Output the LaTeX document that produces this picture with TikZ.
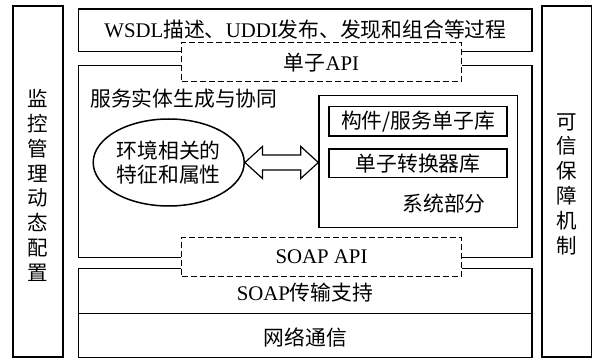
\documentclass[tikz,border=0pt]{standalone}
\usepackage{fontspec}
\setmainfont{Liberation Serif}
\newfontfamily\cjk{Noto Sans CJK SC}
\usetikzlibrary{shapes.geometric,calc}

\tikzset{
  frame/.style={line width=1.5pt},
  box/.style={draw, line width=1.5pt, inner sep=0pt},
  apibox/.style={draw, line width=1.4pt, dash pattern=on 6pt off 3pt,
    minimum width=279.6pt, minimum height=39pt, inner sep=0pt},
  txt/.style={inner sep=0pt, font=\fontsize{20.8}{24}\selectfont},
  vtxt/.style={inner sep=0pt, align=center,
    font=\fontsize{20.5}{24.8}\selectfont\cjk},
}

\begin{document}
\begin{tikzpicture}[x=1pt, y=-1pt]
\useasboundingbox (0,0) rectangle (599,358);

% side columns
\node[box, minimum width=50pt, minimum height=351pt] (mon) at (38,181.5) {};
\node[vtxt] (montxt) at (38,185.5) {监\\控\\管\\理\\动\\态\\配\\置};
\node[box, minimum width=49.5pt, minimum height=351pt] (trust) at (566.5,181.5) {};
\node[vtxt] (trusttxt) at (566.5,184) {可\\信\\保\\障\\机\\制};

% API layers (dashed)
\node[apibox] (api1) at (321.5,62.2) {};
\node[txt] (api1txt) at (321.5,63) {{\cjk 单子}API};
\node[apibox] (api2) at (321.5,256.8) {};
\node[txt] (api2txt) at (321.5,256.5) {SOAP API};

% discovery / composition layer
\draw[frame] (api1.west |- 0,51.7) -- (78.3,51.7) -- (78.3,9) -- (532,9)
  -- (532,51.7) -- (api1.east |- 0,51.7);
\node[txt] (wsdl) at (305.5,30) {WSDL{\cjk 描述、}UDDI{\cjk 发布、发现和组合等过程}};

% service entity layer
\draw[frame] (api1.west |- 0,65.7) -- (78.3,65.7) -- (78.3,257.3) -- (api2.west |- 0,257.3);
\draw[frame] (api1.east |- 0,65.7) -- (532,65.7) -- (532,257.3) -- (api2.east |- 0,257.3);
\node[txt, anchor=west] (svc) at (90,99) {\cjk 服务实体生成与协同};

\node[box, ellipse, minimum width=151pt, minimum height=87pt, align=center,
  font=\fontsize{20.8}{24}\selectfont\cjk] (ell) at (168.7,162.5) {环境相关的\\特征和属性};

\node[box, minimum width=198.3pt, minimum height=131.6pt] (sys) at (418.2,161.5) {};
\node[box, minimum width=178.3pt, minimum height=29.3pt, font=\fontsize{20.8}{24}\selectfont\cjk]
  (lib1) at (418,121.3) {构件/服务单子库};
\node[box, minimum width=178.3pt, minimum height=28.5pt, font=\fontsize{20.8}{24}\selectfont\cjk]
  (lib2) at (418,163.3) {单子转换器库};
\node[txt] (systxt) at (444,203.5) {\cjk 系统部分};

% double arrow between the ellipse and the system part
\draw[line width=1.2pt, line join=miter] (ell.east) -- ++(17.5,-16) -- ++(0,8.5)
  -- ($(sys.west |- ell.east)+(-17.5,-7.5)$) -- ++(0,-8.5)
  -- (sys.west |- ell.east) -- ++(-17.5,16) -- ++(0,-8.5)
  -- ($(ell.east)+(17.5,7.5)$) -- ++(0,8.5) -- cycle;

% transport and network layers
\draw[frame] (api2.west |- 0,268.3) -- (78.3,268.3) -- (78.3,357.3) -- (532,357.3)
  -- (532,268.3) -- (api2.east |- 0,268.3);
\draw[frame] (78.3,313.7) -- (532,313.7);
\node[txt] (soap) at (305,292.5) {SOAP{\cjk 传输支持}};
\node[txt] (net) at (305.5,337.5) {\cjk 网络通信};
\end{tikzpicture}
\end{document}
